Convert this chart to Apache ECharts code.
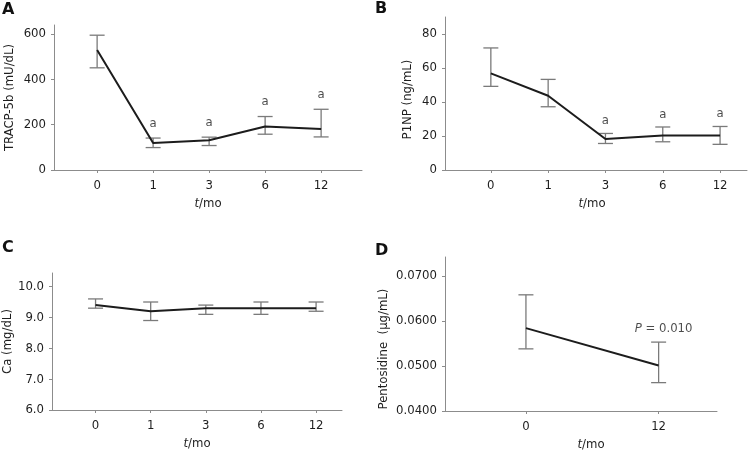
<!DOCTYPE html>
<html><head><meta charset="utf-8">
<script src="https://cdn.jsdelivr.net/npm/echarts@6/dist/echarts.min.js"></script>
<style>html,body{margin:0;padding:0;background:#fff}#c{width:755px;height:458px}</style>
</head><body><div id="c"></div>
<script>
// ---- data ----
var timeCats = ['0', '1', '3', '6', '12'];
var timeCatsD = ['0', '12'];

var tracpMean = [530, 119, 131, 192, 181];
var tracpUpper = [595, 141, 145, 236, 268];
var tracpLower = [451, 99, 108, 158, 146];
var tracpSig = ['', 'a', 'a', 'a', 'a'];

var p1npMean = [56.8, 43.7, 18.2, 20.3, 20.3];
var p1npUpper = [71.8, 53.3, 21.5, 25.3, 25.6];
var p1npLower = [49.2, 37.2, 15.6, 16.6, 15.1];
var p1npSig = ['', '', 'a', 'a', 'a'];

var caMean = [9.4, 9.2, 9.3, 9.3, 9.3];
var caUpper = [9.6, 9.5, 9.4, 9.5, 9.5];
var caLower = [9.3, 8.9, 9.1, 9.1, 9.2];

var pentoMean = [0.0584, 0.0501];
var pentoUpper = [0.0658, 0.0553];
var pentoLower = [0.0538, 0.0463];
var pentoSig = ['', 'P = 0.010'];

var yTicksA = [0, 200, 400, 600];
var yTicksB = [0, 20, 40, 60, 80];
var yTicksC = [6, 7, 8, 9, 10];
var yTicksD = [0.04, 0.05, 0.06, 0.07];

// ---- styling ----
var FONT = "'DejaVu Sans Condensed','DejaVu Sans',sans-serif";
var AX = '#8c8c8c';
var TXT = '#1e1e1e';
var FS = 13;

function idx(arr){ return arr.map(function(_, i){ return i; }); }

function xAxis(gi, cats, min, max, namePad){
  return {
    type: 'value', gridIndex: gi, min: min, max: max,
    name: '{i|t}/mo', nameLocation: 'middle', nameGap: 27,
    nameTextStyle: { fontFamily: FONT, fontSize: FS, color: TXT, padding: namePad || 0,
      rich: { i: { fontStyle: 'italic', fontFamily: FONT, fontSize: FS, color: TXT } } },
    axisLine: { show: true, onZero: false, lineStyle: { color: AX, width: 1 } },
    axisTick: { show: true, length: 3, customValues: idx(cats), lineStyle: { color: AX } },
    axisLabel: { customValues: idx(cats), margin: 9, fontFamily: FONT, fontSize: FS, color: TXT,
      formatter: function(v){ return cats[Math.round(v)]; } },
    splitLine: { show: false }
  };
}
function yAxis(gi, ticks, min, max, name, gap, dec, pad){
  return {
    type: 'value', gridIndex: gi, min: min, max: max,
    name: name, nameLocation: 'middle', nameGap: gap, nameRotate: 90,
    nameTextStyle: { fontFamily: FONT, fontSize: FS, color: TXT, padding: pad || 0 },
    axisLine: { show: true, onZero: false, lineStyle: { color: AX, width: 1 } },
    axisTick: { show: true, length: 3, customValues: ticks, lineStyle: { color: AX } },
    axisLabel: { customValues: ticks, margin: 8, fontFamily: FONT, fontSize: FS, color: TXT,
      formatter: function(v){ return dec ? v.toFixed(dec) : String(Math.round(v)); } },
    splitLine: { show: false }
  };
}

function errSeries(gi, upper, lower){
  return {
    type: 'custom', xAxisIndex: gi, yAxisIndex: gi, z: 2,
    data: upper.map(function(u, i){ return [i, u, lower[i]]; }),
    renderItem: function(params, api){
      var x = api.value(0);
      var hi = api.coord([x, api.value(1)]);
      var lo = api.coord([x, api.value(2)]);
      var w = 7.5;
      var st = { stroke: '#7a7a7a', lineWidth: 1.3 };
      return { type: 'group', children: [
        { type: 'line', shape: { x1: hi[0], y1: hi[1], x2: lo[0], y2: lo[1] }, style: st },
        { type: 'line', shape: { x1: hi[0]-w, y1: hi[1], x2: hi[0]+w, y2: hi[1] }, style: st },
        { type: 'line', shape: { x1: lo[0]-w, y1: lo[1], x2: lo[0]+w, y2: lo[1] }, style: st }
      ]};
    }
  };
}
function lineSeries(gi, mean){
  return {
    type: 'line', xAxisIndex: gi, yAxisIndex: gi, z: 3,
    data: mean.map(function(v, i){ return [i, v]; }),
    symbol: 'none', lineStyle: { color: '#1c1c1c', width: 2 }, animation: false
  };
}
function sigSeries(gi, upper, sig, dist, off, rich){
  return {
    type: 'scatter', xAxisIndex: gi, yAxisIndex: gi, symbolSize: 0, z: 4,
    data: upper.map(function(u, i){ return { value: [i, u], label: { show: !!sig[i] } }; }),
    label: { show: true, position: 'top', distance: dist, offset: off || [0, 0],
      fontFamily: FONT, fontSize: FS, color: TXT,
      formatter: function(p){ var s = sig[p.dataIndex]; return rich ? s.replace(/^P/, '{i|P}') : s; },
      rich: { i: { fontStyle: 'italic', fontFamily: FONT, fontSize: FS, color: TXT } } },
    silent: true
  };
}

var letterStyle = { fontFamily: "'DejaVu Sans',sans-serif", fontSize: 16, fontWeight: 'bold', color: '#111' };

var option = {
  animation: false,
  backgroundColor: '#fff',
  title: [
    { text: 'A', left: 2, top: 2, padding: 0, textStyle: letterStyle },
    { text: 'B', left: 375, top: 1, padding: 0, textStyle: letterStyle },
    { text: 'C', left: 2, top: 240, padding: 0, textStyle: letterStyle },
    { text: 'D', left: 375, top: 243, padding: 0, textStyle: letterStyle }
  ],
  grid: [
    { left: 54, top: 25, width: 308, height: 145 },
    { left: 445, top: 17, width: 302, height: 153 },
    { left: 52, top: 273, width: 290, height: 137 },
    { left: 445, top: 257, width: 272, height: 154 }
  ],
  xAxis: [
    xAxis(0, timeCats, -0.77, 4.73),
    xAxis(1, timeCats, -0.8, 4.47, [0, 8, 0, 0]),
    xAxis(2, timeCats, -0.79, 4.47, [0, 0, 0, 0]),
    xAxis(3, timeCatsD, -0.61, 1.44, [0, 0, 0, 20])
  ],
  yAxis: [
    yAxis(0, yTicksA, 0, 640, 'TRACP-5b (mU/dL)', 38, 0),
    yAxis(1, yTicksB, 0, 90, 'P1NP (ng/mL)', 31, 0, [0, 12, 0, 0]),
    yAxis(2, yTicksC, 6, 10.44, 'Ca (mg/dL)', 37, 1),
    yAxis(3, yTicksD, 0.04, 0.0742, 'Pentosidine  (μg/mL)', 55, 4, [0, 30, 0, 0])
  ],
  series: [
    errSeries(0, tracpUpper, tracpLower), lineSeries(0, tracpMean), sigSeries(0, tracpUpper, tracpSig, 8),
    errSeries(1, p1npUpper, p1npLower), lineSeries(1, p1npMean), sigSeries(1, p1npUpper, p1npSig, 6),
    errSeries(2, caUpper, caLower), lineSeries(2, caMean),
    errSeries(3, pentoUpper, pentoLower), lineSeries(3, pentoMean), sigSeries(3, pentoUpper, pentoSig, 7, [5, 0], true)
  ]
};
echarts.init(document.getElementById('c'), null, { renderer: 'canvas' }).setOption(option);
</script></body></html>
